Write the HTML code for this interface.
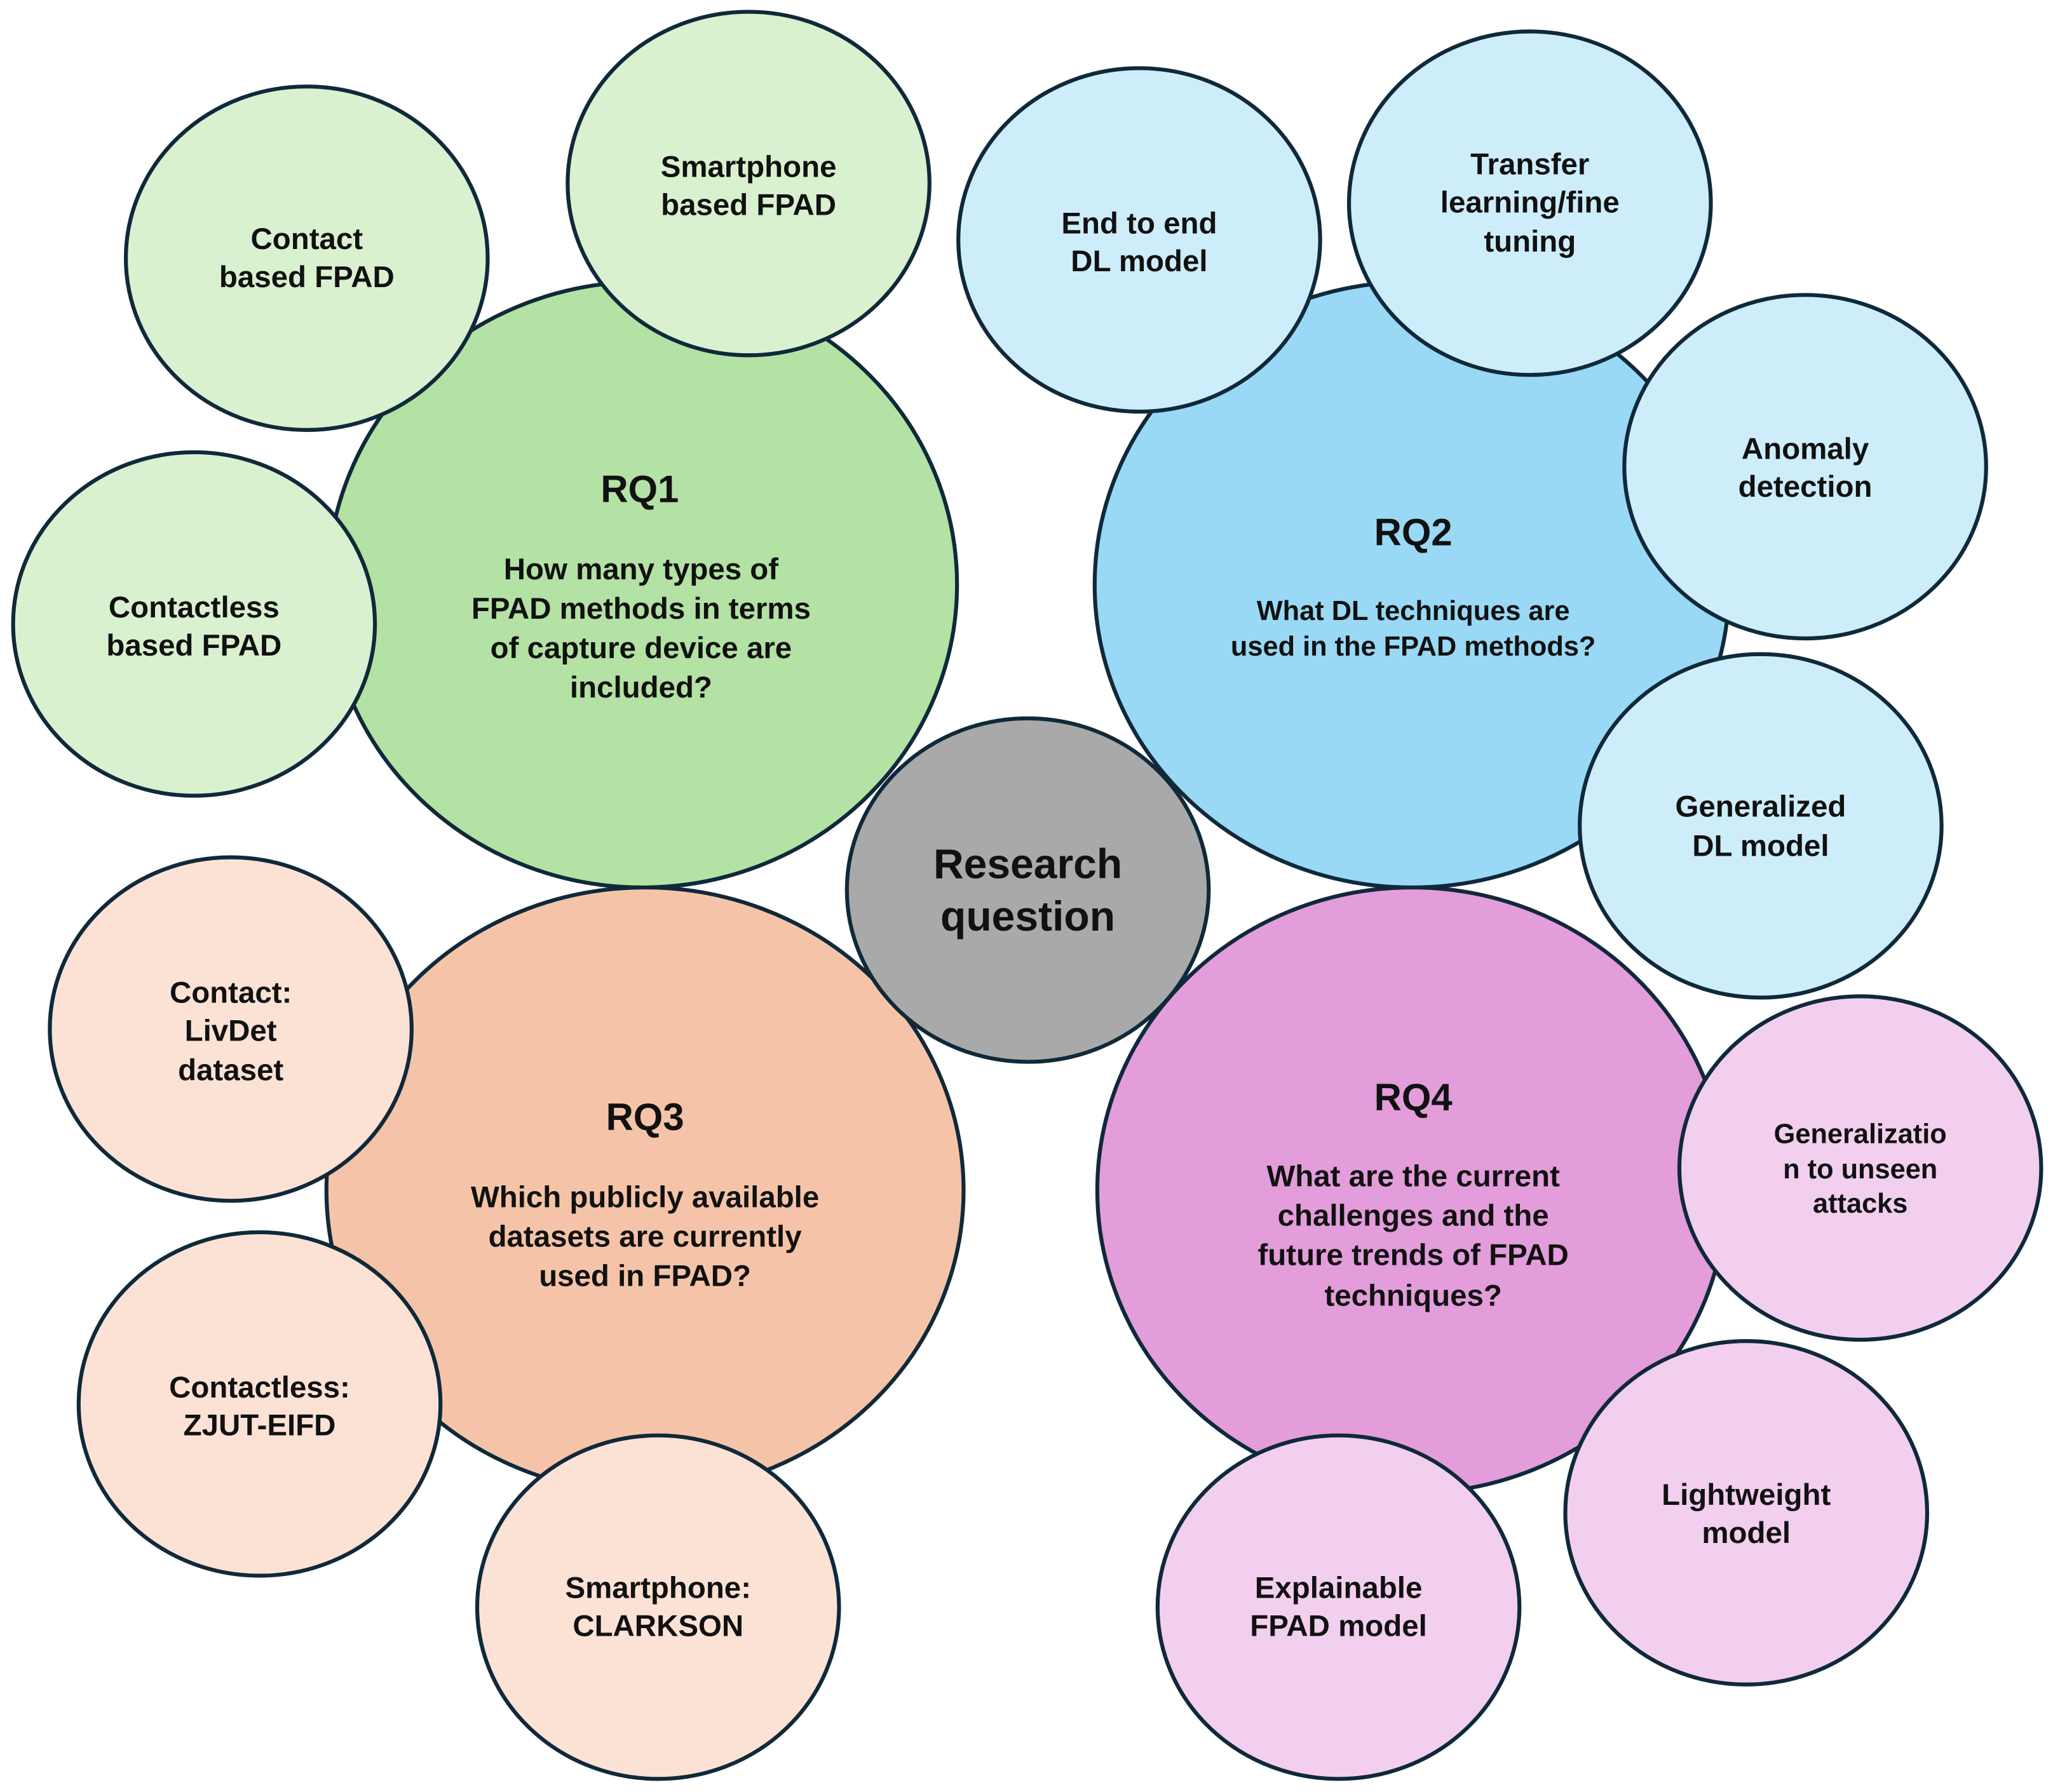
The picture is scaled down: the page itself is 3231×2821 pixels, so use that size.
<!DOCTYPE html>
<html><head><meta charset="utf-8"><style>
html,body{margin:0;padding:0;background:#fff;}
svg{display:block;}
text{font-family:"Liberation Sans",Arial,sans-serif;font-weight:bold;fill:#111;text-anchor:middle;}
.s{font-size:23px;}
.t{font-size:29px;}
.q{font-size:23px;}
</style></head><body>
<svg width="3231" height="2821" viewBox="0 0 1566 1367" preserveAspectRatio="none" xmlns="http://www.w3.org/2000/svg">
<g stroke="#10293a" stroke-width="3">
<ellipse cx="490" cy="446" rx="240" ry="231" fill="#b3e2a4"/>
<ellipse cx="1077" cy="446" rx="242" ry="231" fill="#99d9f5"/>
<ellipse cx="492" cy="908" rx="243" ry="231" fill="#f5c4a8"/>
<ellipse cx="1077" cy="908" rx="240" ry="231" fill="#e39ddb"/>
<ellipse cx="234" cy="197" rx="138" ry="131" fill="#daf1d0"/>
<ellipse cx="571" cy="140" rx="138" ry="131" fill="#daf1d0"/>
<ellipse cx="148" cy="476" rx="138" ry="131" fill="#daf1d0"/>
<ellipse cx="869" cy="183" rx="138" ry="131" fill="#cdedfb"/>
<ellipse cx="1167" cy="155" rx="138" ry="131" fill="#cdedfb"/>
<ellipse cx="1377" cy="356" rx="138" ry="131" fill="#cdedfb"/>
<ellipse cx="1343" cy="630" rx="138" ry="131" fill="#cdedfb"/>
<ellipse cx="176" cy="785" rx="138" ry="131" fill="#fbe2d5"/>
<ellipse cx="198" cy="1071" rx="138" ry="131" fill="#fbe2d5"/>
<ellipse cx="502" cy="1226" rx="138" ry="131" fill="#fbe2d5"/>
<ellipse cx="1419" cy="891" rx="138" ry="131" fill="#f2cfee"/>
<ellipse cx="1332" cy="1154" rx="138" ry="131" fill="#f2cfee"/>
<ellipse cx="1021" cy="1226" rx="138" ry="131" fill="#f2cfee"/>
<ellipse cx="784" cy="679" rx="138" ry="131" fill="#a9a9a9"/>
</g>
<text class="s" x="234" y="190">Contact</text><text class="s" x="234" y="219">based FPAD</text>
<text class="s" x="571" y="135">Smartphone</text><text class="s" x="571" y="164">based FPAD</text>
<text class="s" x="148" y="471">Contactless</text><text class="s" x="148" y="500">based FPAD</text>
<text class="t" x="488" y="383">RQ1</text>
<text class="q" x="489" y="442">How many types of</text><text class="q" x="489" y="472">FPAD methods in terms</text><text class="q" x="489" y="502">of capture device are</text><text class="q" x="489" y="532">included?</text>
<text class="s" x="869" y="178">End to end</text><text class="s" x="869" y="207">DL model</text>
<text class="s" x="1167" y="133">Transfer</text><text class="s" x="1167" y="162">learning/fine</text><text class="s" x="1167" y="192">tuning</text>
<text class="s" x="1377" y="350">Anomaly</text><text class="s" x="1377" y="379">detection</text>
<text class="s" x="1343" y="623">Generalized</text><text class="s" x="1343" y="653">DL model</text>
<text class="t" x="1078" y="416">RQ2</text>
<text style="font-size:21px" x="1078" y="473">What DL techniques are</text><text style="font-size:21px" x="1078" y="500">used in the FPAD methods?</text>
<text style="font-size:32px" x="784" y="670">Research</text><text style="font-size:32px" x="784" y="710">question</text>
<text class="s" x="176" y="765">Contact:</text><text class="s" x="176" y="794">LivDet</text><text class="s" x="176" y="824">dataset</text>
<text class="s" x="198" y="1066">Contactless:</text><text class="s" x="198" y="1095">ZJUT-EIFD</text>
<text class="s" x="502" y="1219">Smartphone:</text><text class="s" x="502" y="1248">CLARKSON</text>
<text class="t" x="492" y="862">RQ3</text>
<text class="q" x="492" y="921">Which publicly available</text><text class="q" x="492" y="951">datasets are currently</text><text class="q" x="492" y="981">used in FPAD?</text>
<text class="t" x="1078" y="847">RQ4</text>
<text class="q" x="1078" y="905">What are the current</text><text class="q" x="1078" y="935">challenges and the</text><text class="q" x="1078" y="965">future trends of FPAD</text><text class="q" x="1078" y="996">techniques?</text>
<text style="font-size:21px" x="1419" y="872">Generalizatio</text><text style="font-size:21px" x="1419" y="899">n to unseen</text><text style="font-size:21px" x="1419" y="925">attacks</text>
<text class="s" x="1332" y="1148">Lightweight</text><text class="s" x="1332" y="1177">model</text>
<text class="s" x="1021" y="1219">Explainable</text><text class="s" x="1021" y="1248">FPAD model</text>
</svg>
</body></html>
